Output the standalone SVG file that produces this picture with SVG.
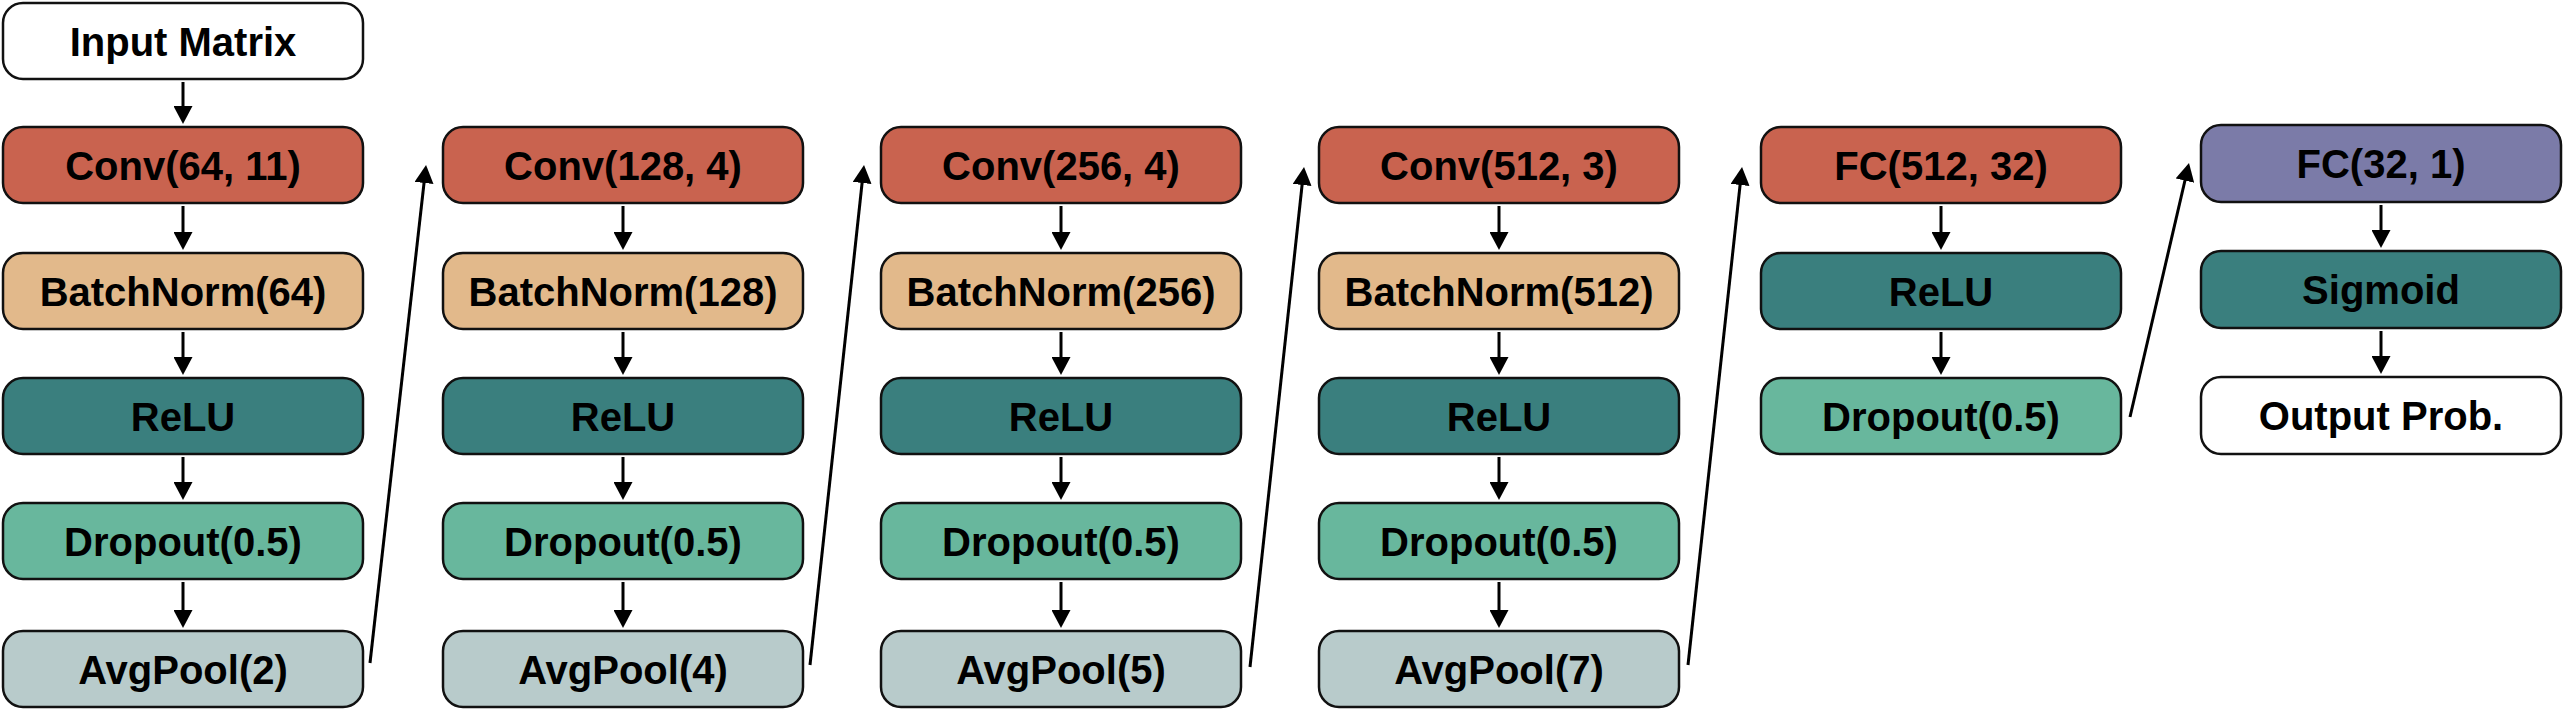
<svg xmlns="http://www.w3.org/2000/svg" width="2564" height="710" viewBox="0 0 2564 710">
<style>
.box{stroke:#111;stroke-width:2.5}
.t{font-family:"Liberation Sans",Arial,sans-serif;font-weight:bold;font-size:40px;fill:#000;text-anchor:middle}
.w{fill:#fff}.conv{fill:#C9634F}.bn{fill:#E2B98B}.relu{fill:#3A7F7E}.drop{fill:#68B79D}.pool{fill:#B8CBCB}.fc2{fill:#7B7BA8}
.c{stroke:#000;stroke-width:3;fill:none;marker-end:url(#ah)}
</style>
<defs>
<marker id="ah" markerWidth="18" markerHeight="19" refX="14" refY="9.5" orient="auto" markerUnits="userSpaceOnUse">
<path d="M0,0 L18,9.5 L0,19 z" fill="#000"/>
</marker>
</defs>
<rect width="2564" height="710" fill="#fff"/>

<g id="input"><rect class="box w" x="3" y="3" width="360" height="76" rx="20"/><text class="t" x="183" y="56">Input Matrix</text></g>

<g id="conv1"><rect class="box conv" x="3" y="127" width="360" height="76" rx="20"/><text class="t" x="183" y="180">Conv(64, 11)</text></g>
<g id="bn1"><rect class="box bn" x="3" y="253" width="360" height="76" rx="20"/><text class="t" x="183" y="306">BatchNorm(64)</text></g>
<g id="relu1"><rect class="box relu" x="3" y="378" width="360" height="76" rx="20"/><text class="t" x="183" y="431">ReLU</text></g>
<g id="drop1"><rect class="box drop" x="3" y="503" width="360" height="76" rx="20"/><text class="t" x="183" y="556">Dropout(0.5)</text></g>
<g id="pool1"><rect class="box pool" x="3" y="631" width="360" height="76" rx="20"/><text class="t" x="183" y="684">AvgPool(2)</text></g>

<g id="conv2"><rect class="box conv" x="443" y="127" width="360" height="76" rx="20"/><text class="t" x="623" y="180">Conv(128, 4)</text></g>
<g id="bn2"><rect class="box bn" x="443" y="253" width="360" height="76" rx="20"/><text class="t" x="623" y="306">BatchNorm(128)</text></g>
<g id="relu2"><rect class="box relu" x="443" y="378" width="360" height="76" rx="20"/><text class="t" x="623" y="431">ReLU</text></g>
<g id="drop2"><rect class="box drop" x="443" y="503" width="360" height="76" rx="20"/><text class="t" x="623" y="556">Dropout(0.5)</text></g>
<g id="pool2"><rect class="box pool" x="443" y="631" width="360" height="76" rx="20"/><text class="t" x="623" y="684">AvgPool(4)</text></g>

<g id="conv3"><rect class="box conv" x="881" y="127" width="360" height="76" rx="20"/><text class="t" x="1061" y="180">Conv(256, 4)</text></g>
<g id="bn3"><rect class="box bn" x="881" y="253" width="360" height="76" rx="20"/><text class="t" x="1061" y="306">BatchNorm(256)</text></g>
<g id="relu3"><rect class="box relu" x="881" y="378" width="360" height="76" rx="20"/><text class="t" x="1061" y="431">ReLU</text></g>
<g id="drop3"><rect class="box drop" x="881" y="503" width="360" height="76" rx="20"/><text class="t" x="1061" y="556">Dropout(0.5)</text></g>
<g id="pool3"><rect class="box pool" x="881" y="631" width="360" height="76" rx="20"/><text class="t" x="1061" y="684">AvgPool(5)</text></g>

<g id="conv4"><rect class="box conv" x="1319" y="127" width="360" height="76" rx="20"/><text class="t" x="1499" y="180">Conv(512, 3)</text></g>
<g id="bn4"><rect class="box bn" x="1319" y="253" width="360" height="76" rx="20"/><text class="t" x="1499" y="306">BatchNorm(512)</text></g>
<g id="relu4"><rect class="box relu" x="1319" y="378" width="360" height="76" rx="20"/><text class="t" x="1499" y="431">ReLU</text></g>
<g id="drop4"><rect class="box drop" x="1319" y="503" width="360" height="76" rx="20"/><text class="t" x="1499" y="556">Dropout(0.5)</text></g>
<g id="pool4"><rect class="box pool" x="1319" y="631" width="360" height="76" rx="20"/><text class="t" x="1499" y="684">AvgPool(7)</text></g>

<g id="fc1"><rect class="box conv" x="1761" y="127" width="360" height="76" rx="20"/><text class="t" x="1941" y="180">FC(512, 32)</text></g>
<g id="relu5"><rect class="box relu" x="1761" y="253" width="360" height="76" rx="20"/><text class="t" x="1941" y="306">ReLU</text></g>
<g id="drop5"><rect class="box drop" x="1761" y="378" width="360" height="76" rx="20"/><text class="t" x="1941" y="431">Dropout(0.5)</text></g>

<g id="fc2"><rect class="box fc2" x="2201" y="125" width="360" height="77" rx="20"/><text class="t" x="2381" y="178">FC(32, 1)</text></g>
<g id="sigmoid"><rect class="box relu" x="2201" y="251" width="360" height="77" rx="20"/><text class="t" x="2381" y="304">Sigmoid</text></g>
<g id="output"><rect class="box w" x="2201" y="377" width="360" height="77" rx="20"/><text class="t" x="2381" y="430">Output Prob.</text></g>

<g id="connectors">
<path class="c" d="M183,82 V120"/>
<path class="c" d="M183,206 V246"/>
<path class="c" d="M183,332 V371"/>
<path class="c" d="M183,457 V496"/>
<path class="c" d="M183,582 V624"/>

<path class="c" d="M623,206 V246"/>
<path class="c" d="M623,332 V371"/>
<path class="c" d="M623,457 V496"/>
<path class="c" d="M623,582 V624"/>

<path class="c" d="M1061,206 V246"/>
<path class="c" d="M1061,332 V371"/>
<path class="c" d="M1061,457 V496"/>
<path class="c" d="M1061,582 V624"/>

<path class="c" d="M1499,206 V246"/>
<path class="c" d="M1499,332 V371"/>
<path class="c" d="M1499,457 V496"/>
<path class="c" d="M1499,582 V624"/>

<path class="c" d="M1941,206 V246"/>
<path class="c" d="M1941,332 V371"/>

<path class="c" d="M2381,205 V244"/>
<path class="c" d="M2381,331 V370"/>

<path class="c" d="M370,663 L425.6,169"/>
<path class="c" d="M810,665 L863.6,169"/>
<path class="c" d="M1250,667 L1303.6,171"/>
<path class="c" d="M1688,665 L1741.6,171"/>
<path class="c" d="M2130,417 L2188.1,167"/>
</g>
</svg>
